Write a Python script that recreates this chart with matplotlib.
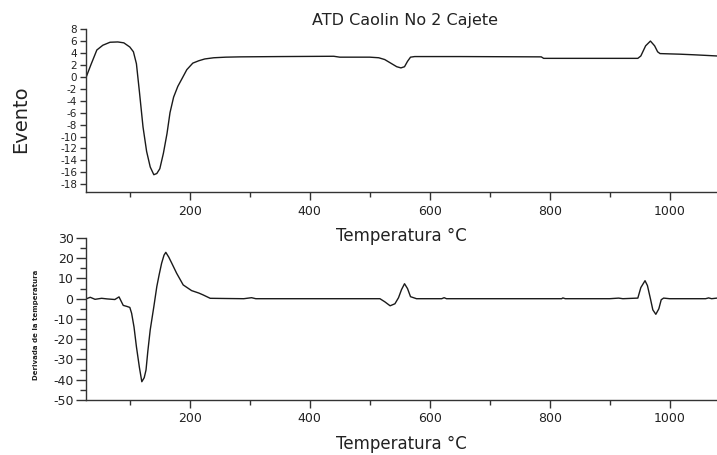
import numpy as np
import matplotlib
matplotlib.use("Agg")
from matplotlib import pyplot as plt
from matplotlib.ticker import MultipleLocator

plt.rcParams['axes.unicode_minus'] = False
plt.rcParams['font.family'] = ['DejaVu Sans']

# ATD curve (Evento)
atd_temp = [27, 35, 45, 55, 67, 80, 90, 100, 106, 111, 116, 122, 128, 134, 140,
            145, 150, 156, 162, 167, 173, 180, 187, 195, 205, 215, 225, 240, 260,
            284, 350, 440, 450, 500, 515, 525, 535, 545, 552, 558, 563, 568, 575,
            650, 786, 790, 947, 952, 960, 968, 975, 980, 984, 1000, 1017, 1040,
            1060, 1079]
atd_evento = [-0.1, 2.0, 4.5, 5.3, 5.8, 5.85, 5.7, 5.0, 4.2, 2.2, -2.5, -8.4, -12.5,
              -15.1, -16.4, -16.2, -15.4, -12.8, -9.5, -6.0, -3.4, -1.6, -0.3, 1.2,
              2.3, 2.7, 3.0, 3.2, 3.3, 3.35, 3.4, 3.45, 3.3, 3.3, 3.2, 2.9, 2.3, 1.7,
              1.5, 1.7, 2.6, 3.3, 3.4, 3.4, 3.35, 3.1, 3.1, 3.5, 5.2, 6.0, 5.2, 4.2,
              3.9, 3.85, 3.8, 3.7, 3.6, 3.5]

# derivative curve
der_temp = [27, 34, 42, 53, 62, 75, 82, 89, 95, 100, 103, 107, 111, 116, 120, 124,
            127, 130, 134, 140, 145, 149, 153, 157, 160, 165, 170, 178, 189, 203,
            215, 222, 234, 260, 290, 303, 310, 400, 517, 525, 534, 542, 548, 553,
            558, 563, 568, 578, 620, 624, 628, 820, 822, 826, 900, 915, 922, 947,
            952, 959, 963, 968, 972, 977, 982, 986, 990, 1000, 1060, 1065, 1070,
            1079]
der_val = [-0.1, 0.7, -0.3, 0.2, -0.1, -0.4, 0.9, -3.3, -3.8, -4.3, -7.2, -14, -23.7,
           -34, -41, -39, -35.2, -26, -15.4, -4, 6.0, 12, 17.5, 21.5, 22.9, 20.5,
           17.5, 12.6, 6.8, 4.0, 2.8, 1.9, 0.2, 0.1, 0.0, 0.5, 0.0, 0.0, 0.0, -1.5,
           -3.5, -2.5, 0.5, 4.5, 7.4, 5.0, 1.0, 0.0, 0.0, 0.5, 0.0, 0.0, 0.4, 0.0,
           0.0, 0.3, 0.0, 0.3, 5.5, 8.9, 6.5, 0.0, -5.5, -7.7, -5.0, -0.5, 0.3, 0.0,
           0.0, 0.4, 0.0, 0.3]

fig = plt.figure(figsize=(7.17, 4.55), dpi=100)
ax1 = fig.add_axes([0.12, 0.578, 0.88, 0.358])
ax2 = fig.add_axes([0.12, 0.121, 0.88, 0.356])
# keep the top x label visible where it runs into the lower panel
ax2.patch.set_visible(False)
ax1.set_zorder(2)
ax1.patch.set_visible(False)

line_col = '#1a1a1a'
ax1.plot(atd_temp, atd_evento, color=line_col, lw=1.0)
ax2.plot(der_temp, der_val, color=line_col, lw=1.0)

for ax in (ax1, ax2):
    ax.set_xlim(27, 1079)
    ax.spines['top'].set_visible(False)
    ax.spines['right'].set_visible(False)
    for s in ('left', 'bottom'):
        ax.spines[s].set_color('#333333')
        ax.spines[s].set_linewidth(1.0)
    ax.xaxis.set_major_locator(MultipleLocator(200))
    ax.xaxis.set_minor_locator(MultipleLocator(100))
    ax.tick_params(axis='x', which='major', direction='out', length=6, width=1,
                   labelsize=9, pad=3, colors='#333333', labelcolor='#222222')
    ax.tick_params(axis='x', which='minor', direction='out', length=3.5, width=1,
                   colors='#333333')
    ax.set_xlabel('Temperatura °C', fontsize=12, color='#222222', labelpad=7)

ax1.set_ylim(-19.3, 8)
ax1.set_yticks(np.arange(-18, 9, 2))
ax1.tick_params(axis='y', direction='out', length=4.5, width=1, labelsize=7.5,
                pad=2, colors='#333333', labelcolor='#222222')

ax2.set_ylim(-50, 30)
ax2.yaxis.set_major_locator(MultipleLocator(10))
ax2.yaxis.set_minor_locator(MultipleLocator(5))
ax2.tick_params(axis='y', which='major', direction='out', length=7, width=1,
                labelsize=9, pad=2, colors='#333333', labelcolor='#222222')
ax2.tick_params(axis='y', which='minor', direction='out', length=4, width=1,
                colors='#333333')

fig.text(0.565, 0.956, 'ATD Caolin No 2 Cajete', ha='center', va='center',
         fontsize=11.5, color='#222222')
fig.text(0.029, 0.738, 'Evento', rotation=90, ha='center', va='center',
         fontsize=14, color='#222222')
fig.text(0.050, 0.286, 'Derivada de la temperatura', rotation=90, ha='center',
         va='center', fontsize=5, fontweight='bold', color='#222222')

plt.savefig('out.png', dpi=100)
